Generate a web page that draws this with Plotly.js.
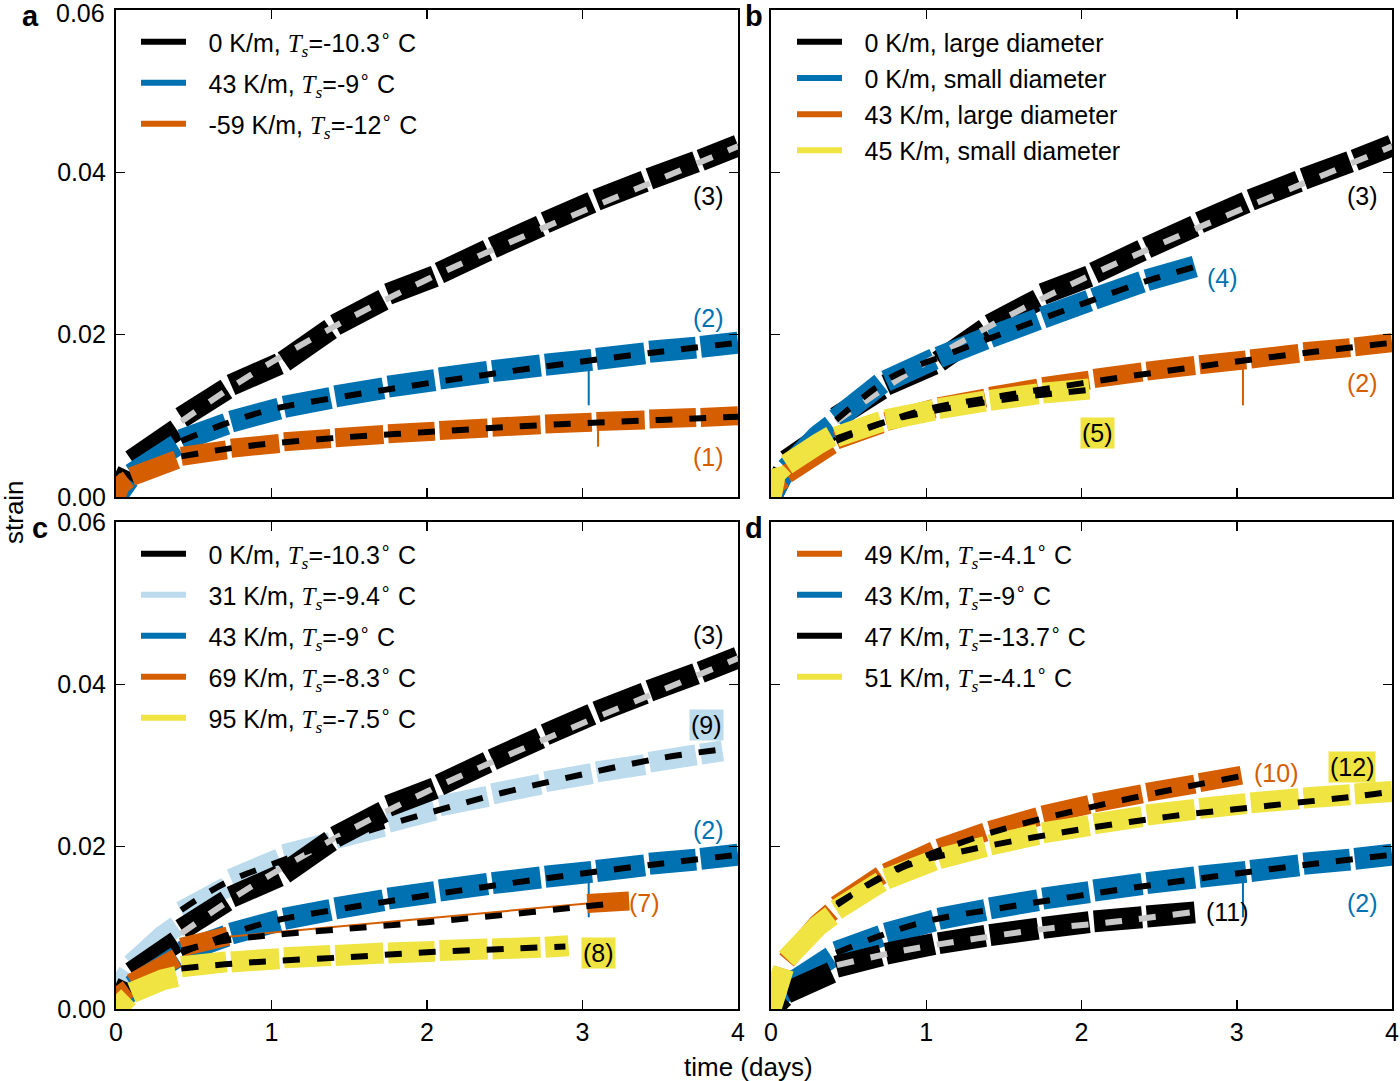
<!DOCTYPE html>
<html>
<head>
<meta charset="utf-8">
<script src="https://cdn.plot.ly/plotly-3.0.1.min.js"></script>
<style>html,body{margin:0;padding:0;background:#fff;}#chart{width:1400px;height:1081px;}</style>
</head>
<body>
<div id="chart"></div>
<script>
// ---------- data (time in days, strain) ----------
const tGrid = [0, 0.03, 0.08, null, 0.10, 0.20, 0.30, 0.39, null, 0.42, 0.71, null, 0.74, 1.05, null, 1.08, 1.38, null, 1.41, 1.72, null, 1.75, 2.05, null, 2.08, 2.39, null, 2.42, 2.73, null, 2.76, 3.06, null, 3.09, 3.40, null, 3.43, 3.73, null, 3.76, 4.00];

// (3) 0 K/m, Ts=-10.3 C, large diameter
const s3 = [0, 0.0022, 0.0032, null, 0.0045, 0.0058, 0.0070, 0.0083, null, 0.0098, 0.0133, null, 0.0138, 0.0164, null, 0.0167, 0.0207, null, 0.0212, 0.0243, null, 0.0250, 0.0272, null, 0.0276, 0.0304, null, 0.0307, 0.0334, null, 0.0338, 0.0363, null, 0.0366, 0.0389, null, 0.0392, 0.0413, null, 0.0415, 0.0433];
// (2) 43 K/m, Ts=-9 C, large diameter
const s2 = [0, 0.0015, 0.0022, null, 0.0028, 0.0042, 0.0053, 0.0064, null, 0.0070, 0.0090, null, 0.0093, 0.0109, null, 0.0111, 0.0122, null, 0.0124, 0.0134, null, 0.0136, 0.0144, null, 0.0146, 0.0154, null, 0.0155, 0.0162, null, 0.0163, 0.0169, null, 0.0170, 0.0177, null, 0.0179, 0.0184, null, 0.0185, 0.0190];
const t2spike = [3.04, 3.04];
const s2spike = [0.0166, 0.0113];
// (1) -59 K/m, Ts=-12 C
const s1 = [0, 0.0015, 0.0022, null, 0.0025, 0.0033, 0.0040, 0.0046, null, 0.0050, 0.0058, null, 0.0060, 0.0066, null, 0.0068, 0.0072, null, 0.0073, 0.0077, null, 0.0078, 0.0081, null, 0.0082, 0.0085, null, 0.0086, 0.0089, null, 0.0090, 0.0092, null, 0.0093, 0.0095, null, 0.0096, 0.0098, null, 0.0098, 0.0100];
const t1spike = [3.10, 3.10];
const s1spike = [0.0090, 0.0062];
// (4) 0 K/m, small diameter
const s4 = [0, 0.0020, 0.0030, null, 0.0035, 0.0058, 0.0075, 0.0088, null, 0.0096, 0.0140, null, 0.0143, 0.0170, null, 0.0172, 0.0195, null, 0.0197, 0.0219, null, 0.0221, 0.0242, null, 0.0244, 0.0265, null, 0.0267, 0.0284];
// (5) 45 K/m, small diameter
const s5 = [0, 0.0030, 0.0020, null, 0.0040, 0.0055, 0.0065, 0.0075, null, 0.0074, 0.0093, null, 0.0095, 0.0107, null, 0.0109, 0.0118, null, 0.0119, 0.0127, null, 0.0128, 0.0133];
// (9) 31 K/m, Ts=-9.4 C
const t9 = [0, 0.03, 0.08, null, 0.10, 0.20, 0.30, 0.39, null, 0.42, 0.71, null, 0.74, 1.05, null, 1.08, 1.38, null, 1.41, 1.72, null, 1.75, 2.05, null, 2.08, 2.39, null, 2.42, 2.73, null, 2.76, 3.06, null, 3.09, 3.40, null, 3.43, 3.73, null, 3.76, 3.90];
const s9 = [0, 0.0030, 0.0045, null, 0.0055, 0.0075, 0.0090, 0.0102, null, 0.0120, 0.0150, null, 0.0160, 0.0185, null, 0.0190, 0.0205, null, 0.0210, 0.0225, null, 0.0230, 0.0245, null, 0.0250, 0.0262, null, 0.0265, 0.0277, null, 0.0280, 0.0290, null, 0.0292, 0.0301, null, 0.0304, 0.0313, null, 0.0314, 0.0318];
// (7) 69 K/m, Ts=-8.3 C
const t7 = [0, 0.03, 0.08, null, 0.10, 0.20, 0.30, 0.39, null, 0.42, 0.72, null, 3.03, 3.30];
const s7 = [0, 0.0018, 0.0025, null, 0.0032, 0.0045, 0.0055, 0.0063, null, 0.0076, 0.0090, null, 0.0130, 0.0133];
const t7gap = [0.72, 3.03];
const s7gap = [0.0089, 0.0130];
// (8) 95 K/m, Ts=-7.5 C
const t8 = [0, 0.03, 0.08, null, 0.10, 0.20, 0.30, 0.39, null, 0.42, 0.71, null, 0.74, 1.05, null, 1.08, 1.38, null, 1.41, 1.72, null, 1.75, 2.05, null, 2.08, 2.39, null, 2.42, 2.73, null, 2.76, 2.91];
const s8 = [0, 0.0010, 0.0015, null, 0.0020, 0.0030, 0.0036, 0.0040, null, 0.0052, 0.0058, null, 0.0058, 0.0062, null, 0.0063, 0.0066, null, 0.0066, 0.0069, null, 0.0069, 0.0071, null, 0.0072, 0.0074, null, 0.0074, 0.0076, null, 0.0076, 0.0078];
// (10) 49 K/m, Ts=-4.1 C
const t10 = [0, 0.03, 0.08, null, 0.10, 0.20, 0.30, 0.39, null, 0.42, 0.71, null, 0.74, 1.05, null, 1.08, 1.38, null, 1.41, 1.72, null, 1.75, 2.05, null, 2.08, 2.39, null, 2.42, 2.73, null, 2.76, 3.03];
const s10 = [0, 0.0030, 0.0050, null, 0.0060, 0.0085, 0.0105, 0.0120, null, 0.0128, 0.0165, null, 0.0168, 0.0195, null, 0.0198, 0.0218, null, 0.0220, 0.0237, null, 0.0239, 0.0252, null, 0.0254, 0.0265, null, 0.0267, 0.0277, null, 0.0279, 0.0288];
// (11) 47 K/m, Ts=-13.7 C
const s11 = [0, 0.0010, 0.0015, null, 0.0020, 0.0030, 0.0038, 0.0045, null, 0.0052, 0.0066, null, 0.0068, 0.0080, null, 0.0081, 0.0090, null, 0.0091, 0.0099, null, 0.0100, 0.0107, null, 0.0108, 0.0113, null, 0.0114, 0.0119];
// (12) 51 K/m, Ts=-4.1 C
const s12 = [0, 0.0030, 0.0050, null, 0.0062, 0.0085, 0.0102, 0.0115, null, 0.0122, 0.0157, null, 0.0160, 0.0183, null, 0.0185, 0.0200, null, 0.0202, 0.0215, null, 0.0217, 0.0226, null, 0.0228, 0.0237, null, 0.0239, 0.0246, null, 0.0247, 0.0253, null, 0.0254, 0.0259, null, 0.0260, 0.0264, null, 0.0265, 0.0268];

// fitted curves
const ft3 = [0.42, 0.7, 1.0, 1.5, 2.0, 2.5, 3.0, 3.5, 4.0];
const fs3 = [0.0093, 0.0130, 0.0166, 0.0220, 0.0268, 0.0311, 0.0352, 0.0392, 0.0432];
const fs2 = [0.0069, 0.0090, 0.0108, 0.0125, 0.0140, 0.0154, 0.0167, 0.0179, 0.0190];
const fs1 = [0.0050, 0.0059, 0.0066, 0.0074, 0.0080, 0.0086, 0.0091, 0.0095, 0.0099];
const ft4 = [0.42, 0.78, 1.10, 1.43, 1.75, 2.05, 2.40, 2.72];
const fs4 = [0.0095, 0.0148, 0.0173, 0.0197, 0.0220, 0.0241, 0.0265, 0.0283];
const ft5 = [0.42, 0.78, 1.10, 1.43, 1.75, 2.05];
const fs5 = [0.0072, 0.0095, 0.0108, 0.0118, 0.0126, 0.0132];
const ft9 = [0.42, 0.7, 1.0, 1.5, 2.0, 2.5, 3.0, 3.5, 3.9];
const fs9 = [0.0122, 0.0155, 0.0178, 0.0212, 0.0241, 0.0267, 0.0289, 0.0309, 0.0320];
const ft7 = [0.42, 0.7, 1.0, 1.5, 2.0, 2.5, 3.0, 3.19];
const fs7 = [0.0072, 0.0084, 0.0091, 0.0099, 0.0107, 0.0116, 0.0126, 0.0130];
const ft8 = [0.42, 0.7, 1.0, 1.5, 2.0, 2.5, 2.89];
const fs8 = [0.0050, 0.0055, 0.0059, 0.0064, 0.0070, 0.0074, 0.0077];
const ft10 = [0.425, 0.7, 1.0, 1.5, 2.0, 2.5, 3.03];
const fs10 = [0.0128, 0.0162, 0.0189, 0.0222, 0.0246, 0.0267, 0.0287];
const ft12 = [0.425, 0.88, 1.25, 1.89, 2.56, 3.23, 3.77, 4.0];
const fs12 = [0.0130, 0.0177, 0.0195, 0.0218, 0.0237, 0.0251, 0.0262, 0.0268];
const ft11 = [0.425, 0.88, 1.33, 1.78, 2.24, 2.70];
const fs11 = [0.0054, 0.0073, 0.0087, 0.0099, 0.0108, 0.0119];

// legend labels
const TS = '<span style="font-family:\'Liberation Serif\'"><i>T</i><sub><i>s</i></sub></span>';
const SP = '\u2002\u2009';
const legA = ['0 K/m, ' + TS + '=-10.3<sup>∘</sup> C', '43 K/m, ' + TS + '=-9<sup>∘</sup> C', '-59 K/m, ' + TS + '=-12<sup>∘</sup> C'];
const legB = ['0 K/m, large diameter', '0 K/m, small diameter', '43 K/m, large diameter', '45 K/m, small diameter'];
const legC = ['0 K/m, ' + TS + '=-10.3<sup>∘</sup> C', '31 K/m, ' + TS + '=-9.4<sup>∘</sup> C', '43 K/m, ' + TS + '=-9<sup>∘</sup> C', '69 K/m, ' + TS + '=-8.3<sup>∘</sup> C', '95 K/m, ' + TS + '=-7.5<sup>∘</sup> C'];
const legD = ['49 K/m, ' + TS + '=-4.1<sup>∘</sup> C', '43 K/m, ' + TS + '=-9<sup>∘</sup> C', '47 K/m, ' + TS + '=-13.7<sup>∘</sup> C', '51 K/m, ' + TS + '=-4.1<sup>∘</sup> C'];

// ---------- styling ----------
const K = '#000000', B = '#0072b2', O = '#d55e00', Y = '#f0e442', LB = '#bcdcee', G = '#c8c8c8';
const WID = {};
WID[K] = 22; WID[B] = 22; WID[O] = 19; WID[Y] = 21; WID[LB] = 21;
function ax(n) { return n === 1 ? '' : String(n); }
function band(t, s, color, p, w) {
  return {x: t, y: s, xaxis: 'x' + ax(p), yaxis: 'y' + ax(p), type: 'scatter', mode: 'lines',
    line: {color: color, width: w || WID[color]}, showlegend: false, hoverinfo: 'skip', connectgaps: false};
}
function fit(t, s, color, p) {
  return {x: t, y: s, xaxis: 'x' + ax(p), yaxis: 'y' + ax(p), type: 'scatter', mode: 'lines',
    line: {color: color, width: 6, dash: '17px,17px', shape: 'spline'}, showlegend: false, hoverinfo: 'skip'};
}
function leg(name, color, p) {
  const L = p === 1 ? 'legend' : 'legend' + p;
  return {x: [null], y: [null], xaxis: 'x' + ax(p), yaxis: 'y' + ax(p), type: 'scatter', mode: 'lines',
    line: {color: color, width: 6}, name: SP + name, legend: L, legendgroup: L + name, showlegend: true};
}

const traces = [
  // panel a
  band(tGrid, s3, K, 1), band(tGrid, s2, B, 1), band(t2spike, s2spike, B, 1, 2),
  band(tGrid, s1, O, 1), band(t1spike, s1spike, O, 1, 2),
  fit(ft3, fs3, G, 1), fit(ft3, fs2, K, 1), fit(ft3, fs1, K, 1),
  leg(legA[0], K, 1), leg(legA[1], B, 1), leg(legA[2], O, 1),
  // panel b
  band(tGrid, s3, K, 2), band(tGrid, s4, B, 2), band(tGrid, s2, O, 2), band(t2spike, s2spike, O, 2, 2),
  band(tGrid, s5, Y, 2),
  fit(ft3, fs3, G, 2), fit(ft4, fs4, K, 2), fit(ft3, fs2, K, 2), fit(ft5, fs5, K, 2),
  leg(legB[0], K, 2), leg(legB[1], B, 2), leg(legB[2], O, 2), leg(legB[3], Y, 2),
  // panel c
  band(t9, s9, LB, 3), band(tGrid, s3, K, 3), band(tGrid, s2, B, 3), band(t2spike, s2spike, B, 3, 2),
  band(t7gap, s7gap, O, 3, 2), band(t7, s7, O, 3), band(t8, s8, Y, 3),
  fit(ft3, fs3, G, 3), fit(ft9, fs9, K, 3), fit(ft3, fs2, K, 3), fit(ft7, fs7, K, 3), fit(ft8, fs8, K, 3),
  leg(legC[0], K, 3), leg(legC[1], LB, 3), leg(legC[2], B, 3), leg(legC[3], O, 3), leg(legC[4], Y, 3),
  // panel d
  band(t10, s10, O, 4), band(tGrid, s2, B, 4), band(t2spike, s2spike, B, 4, 2),
  band(tGrid, s11, K, 4), band(tGrid, s12, Y, 4),
  fit(ft10, fs10, K, 4), fit(ft3, fs2, K, 4), fit(ft11, fs11, G, 4), fit(ft12, fs12, K, 4),
  leg(legD[0], O, 4), leg(legD[1], B, 4), leg(legD[2], K, 4), leg(legD[3], Y, 4)
];

const FONT = 'Liberation Sans, Arial, sans-serif';
const FS = 25;
const W = 1400, H = 1081;
const xA = [116 / W, 738 / W], xB = [771 / W, 1392 / W];
const yTop = [1 - 497 / H, 1 - 10 / H], yBot = [1 - 1009 / H, 1 - 522 / H];

function xaxis(dom, anchor, labels) {
  return {domain: dom, anchor: anchor, range: [0, 4], dtick: 1, tick0: 0, ticks: 'inside', ticklen: 9, tickwidth: 1.5,
    tickcolor: '#000', showline: true, linewidth: 2.2, linecolor: '#000', mirror: 'ticks', showgrid: false,
    zeroline: false, showticklabels: labels, tickfont: {size: FS, color: '#000'}, fixedrange: true};
}
function yaxis(dom, anchor, labels, top) {
  return {domain: dom, anchor: anchor, range: [0, 0.06], tickvals: [0, 0.02, 0.04, 0.06],
    ticktext: ['0.00', '0.02', '0.04', top ? '' : '0.06'], ticks: 'inside', ticklen: 9, tickwidth: 1.5,
    tickcolor: '#000', showline: true, linewidth: 2.2, linecolor: '#000', mirror: 'ticks', showgrid: false,
    zeroline: false, showticklabels: labels, tickfont: {size: FS, color: '#000'}, ticklabelstandoff: 3, fixedrange: true};
}
function legendBox(x, y, gap) {
  return {x: x, y: y, xanchor: 'left', yanchor: 'top', bgcolor: 'rgba(0,0,0,0)', borderwidth: 0,
    font: {size: FS, color: '#000', family: FONT}, tracegroupgap: gap, traceorder: 'grouped', itemwidth: 45};
}
function lab(text, x, y, p, color, bg) {
  const a = {text: text, x: x, y: y, xref: 'x' + ax(p), yref: 'y' + ax(p), showarrow: false,
    font: {size: FS, color: color, family: FONT}, xanchor: 'center', yanchor: 'middle'};
  if (bg) { a.bgcolor = bg; a.borderpad = 1; }
  return a;
}
function paperText(text, x, y, size, bold, angle) {
  return {text: bold ? '<b>' + text + '</b>' : text, x: x / W, y: 1 - y / H, xref: 'paper', yref: 'paper',
    showarrow: false, font: {size: size, color: '#000', family: FONT}, xanchor: 'center', yanchor: 'middle',
    textangle: angle || 0};
}

const layout = {
  width: W, height: H, margin: {l: 0, r: 0, t: 0, b: 0}, paper_bgcolor: '#fff', plot_bgcolor: '#fff',
  font: {family: FONT, size: FS, color: '#000'}, showlegend: true,
  xaxis: xaxis(xA, 'y', false), yaxis: yaxis(yTop, 'x', true, true),
  xaxis2: xaxis(xB, 'y2', false), yaxis2: yaxis(yTop, 'x2', false),
  xaxis3: xaxis(xA, 'y3', true), yaxis3: yaxis(yBot, 'x3', true),
  xaxis4: xaxis(xB, 'y4', true), yaxis4: yaxis(yBot, 'x4', false),
  legend: legendBox(136 / W, 1 - 19 / H, 5.5),
  legend2: legendBox(792 / W, 1 - 19 / H, 0.7),
  legend3: legendBox(136 / W, 1 - 531 / H, 5.5),
  legend4: legendBox(792 / W, 1 - 531 / H, 5.5),
  annotations: [
    {text: '0.06', x: 107 / W, y: 0.06, xref: 'paper', yref: 'y', showarrow: false, xanchor: 'right', yanchor: 'middle',
     yshift: -3, font: {size: FS, color: '#000', family: FONT}},
    paperText('a', 31, 16, 29, true), paperText('b', 754, 16, 29, true),
    paperText('c', 40, 528, 29, true), paperText('d', 754, 528, 29, true),
    paperText('strain', 14, 512, 26, false, -90), paperText('time (days)', 748, 1067, 26, false),
    lab('(3)', 3.81, 0.0371, 1, K), lab('(2)', 3.81, 0.0221, 1, B), lab('(1)', 3.81, 0.0049, 1, O),
    lab('(3)', 3.81, 0.0371, 2, K), lab('(4)', 2.905, 0.0270, 2, B), lab('(2)', 3.81, 0.0140, 2, O),
    lab('(5)', 2.10, 0.0079, 2, K, Y),
    lab('(3)', 3.81, 0.0461, 3, K), lab('(9)', 3.80, 0.0350, 3, K, LB), lab('(2)', 3.81, 0.0221, 3, B),
    lab('(7)', 3.40, 0.0131, 3, O), lab('(8)', 3.10, 0.0069, 3, K, Y),
    lab('(10)', 3.25, 0.0291, 4, O), lab('(12)', 3.74, 0.0298, 4, K, Y), lab('(11)', 2.94, 0.0120, 4, K),
    lab('(2)', 3.81, 0.0131, 4, B)
  ]
};

Plotly.newPlot('chart', traces, layout, {displayModeBar: false, staticPlot: true});
</script>
</body>
</html>
